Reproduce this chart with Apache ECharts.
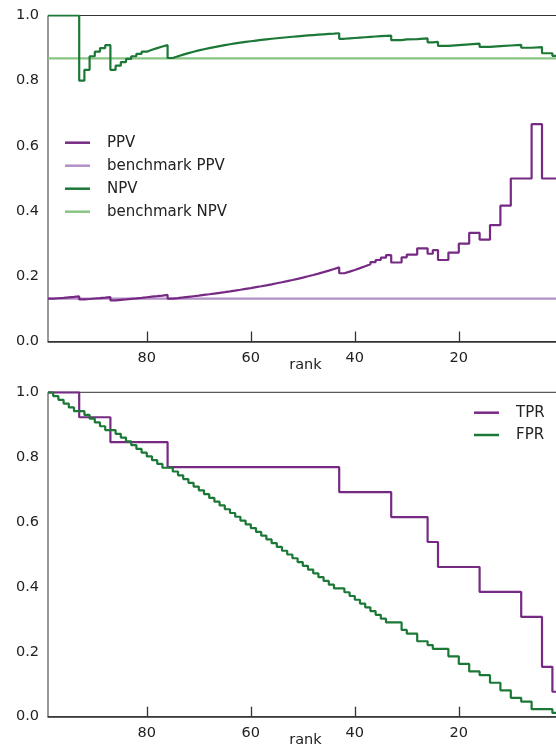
<!DOCTYPE html>
<html>
<head>
<meta charset="utf-8">
<script src="https://cdn.jsdelivr.net/npm/echarts@6/dist/echarts.min.js"></script>
<style>
html, body { margin: 0; padding: 0; background: #fff; }
#chart { width: 556px; height: 746px; }
</style>
</head>
<body>
<div id="chart"></div>
<script>
// rank of each threshold point (left to right on the reversed axis)
var ranks = [99, 98, 97, 96, 95, 94, 93, 92, 91, 90, 89, 88, 87, 86, 85, 84, 83, 82, 81, 80,
  79, 78, 77, 76, 75, 74, 73, 72, 71, 70, 69, 68, 67, 66, 65, 64, 63, 62, 61, 60,
  59, 58, 57, 56, 55, 54, 53, 52, 51, 50, 49, 48, 47, 46, 45, 44, 43, 42, 41, 40,
  39, 38, 37, 36, 35, 34, 33, 31, 30, 28, 26, 25, 24, 22, 20, 18, 16, 14, 12, 10,
  8, 6, 4, 2, 0];

var ppv = [0.1313, 0.1327, 0.1340, 0.1354, 0.1368, 0.1383, 0.1290, 0.1304, 0.1319, 0.1333,
  0.1348, 0.1364, 0.1264, 0.1279, 0.1294, 0.1310, 0.1325, 0.1341, 0.1358, 0.1375,
  0.1392, 0.1410, 0.1429, 0.1316, 0.1333, 0.1351, 0.1370, 0.1389, 0.1408, 0.1429,
  0.1449, 0.1471, 0.1493, 0.1515, 0.1538, 0.1563, 0.1587, 0.1613, 0.1639, 0.1667,
  0.1695, 0.1724, 0.1754, 0.1786, 0.1818, 0.1852, 0.1887, 0.1923, 0.1961, 0.2000,
  0.2041, 0.2083, 0.2128, 0.2174, 0.2222, 0.2273, 0.2093, 0.2143, 0.2195, 0.2250,
  0.2308, 0.2368, 0.2432, 0.2500, 0.2571, 0.2647, 0.2424, 0.2581, 0.2667, 0.2857,
  0.2692, 0.2800, 0.2500, 0.2727, 0.3000, 0.3333, 0.3125, 0.3571, 0.4167, 0.5000,
  0.5000, 0.6667, 0.5000, 0.5000, 0.5000];

var npv = [1, 1, 1, 1, 1, 1, 0.8, 0.8333, 0.875, 0.8889,
  0.9, 0.9091, 0.8333, 0.8462, 0.8571, 0.8667, 0.875, 0.8824, 0.8889, 0.8947,
  0.9, 0.9048, 0.9091, 0.8696, 0.875, 0.88, 0.8846, 0.8889, 0.8929, 0.8966,
  0.9, 0.9032, 0.9063, 0.9091, 0.9118, 0.9143, 0.9167, 0.9189, 0.9211, 0.9231,
  0.925, 0.9268, 0.9286, 0.9302, 0.9318, 0.9333, 0.9348, 0.9362, 0.9375, 0.9388,
  0.94, 0.9412, 0.9423, 0.9434, 0.9444, 0.9455, 0.9286, 0.9298, 0.931, 0.9322,
  0.9333, 0.9344, 0.9355, 0.9365, 0.9375, 0.9385, 0.9242, 0.9265, 0.9275, 0.9296,
  0.9178, 0.9189, 0.9067, 0.9091, 0.9114, 0.9136, 0.9036, 0.9059, 0.908, 0.9101,
  0.9011, 0.9032, 0.8842, 0.8763, 0.8763];

var tpr = [1, 1, 1, 1, 1, 1, 0.9231, 0.9231, 0.9231, 0.9231,
  0.9231, 0.9231, 0.8462, 0.8462, 0.8462, 0.8462, 0.8462, 0.8462, 0.8462, 0.8462,
  0.8462, 0.8462, 0.8462, 0.7692, 0.7692, 0.7692, 0.7692, 0.7692, 0.7692, 0.7692,
  0.7692, 0.7692, 0.7692, 0.7692, 0.7692, 0.7692, 0.7692, 0.7692, 0.7692, 0.7692,
  0.7692, 0.7692, 0.7692, 0.7692, 0.7692, 0.7692, 0.7692, 0.7692, 0.7692, 0.7692,
  0.7692, 0.7692, 0.7692, 0.7692, 0.7692, 0.7692, 0.6923, 0.6923, 0.6923, 0.6923,
  0.6923, 0.6923, 0.6923, 0.6923, 0.6923, 0.6923, 0.6154, 0.6154, 0.6154, 0.6154,
  0.5385, 0.5385, 0.4615, 0.4615, 0.4615, 0.4615, 0.3846, 0.3846, 0.3846, 0.3846,
  0.3077, 0.3077, 0.1538, 0.0769, 0.0769];

var fpr = [1, 0.9884, 0.9767, 0.9651, 0.9535, 0.9419, 0.9419, 0.9302, 0.9186, 0.9070,
  0.8953, 0.8837, 0.8837, 0.8721, 0.8605, 0.8488, 0.8372, 0.8256, 0.8140, 0.8023,
  0.7907, 0.7791, 0.7674, 0.7674, 0.7558, 0.7442, 0.7326, 0.7209, 0.7093, 0.6977,
  0.6860, 0.6744, 0.6628, 0.6512, 0.6395, 0.6279, 0.6163, 0.6047, 0.5930, 0.5814,
  0.5698, 0.5581, 0.5465, 0.5349, 0.5233, 0.5116, 0.5000, 0.4884, 0.4767, 0.4651,
  0.4535, 0.4419, 0.4302, 0.4186, 0.4070, 0.3953, 0.3953, 0.3837, 0.3721, 0.3605,
  0.3488, 0.3372, 0.3256, 0.3140, 0.3023, 0.2907, 0.2907, 0.2674, 0.2558, 0.2326,
  0.2209, 0.2093, 0.2093, 0.1860, 0.1628, 0.1395, 0.1279, 0.1047, 0.0814, 0.0581,
  0.0465, 0.0233, 0.0233, 0.0116, 0.0116];

var benchPPV = 0.1313;
var benchNPV = 0.8687;

var yTicks = ['0.0', '0.2', '0.4', '0.6', '0.8', '1.0'];

function pairs(vals) {
  return ranks.map(function (r, i) { return [r, vals[i]]; });
}
function flat(v) {
  return [[ranks[0], v], [ranks[ranks.length - 1], v]];
}

var FONT = 'DejaVu Sans';
var INK = '#222';

function xAxisFor(gi) {
  return {
    type: 'value', gridIndex: gi, min: 0, max: 99, interval: 20, inverse: true,
    name: 'rank', nameLocation: 'middle', nameGap: 16, nameMoveOverlap: false,
    nameTextStyle: { fontFamily: FONT, fontSize: 14.5, color: INK },
    axisLine: { lineStyle: { color: '#333', width: 1.5 } },
    axisTick: { inside: true, length: 10, lineStyle: { color: '#333', width: 1.3 } },
    axisLabel: { showMaxLabel: false, showMinLabel: false, margin: 9,
      fontFamily: FONT, fontSize: 14.5, color: INK },
    splitLine: { show: false }
  };
}
function yAxisFor(gi) {
  return {
    type: 'value', gridIndex: gi, min: 0, max: 1, interval: 0.2,
    axisLine: { show: true, lineStyle: { color: '#333', width: 1.5 } },
    axisTick: { show: true, inside: true, length: 10, lineStyle: { color: '#333', width: 1.3 } },
    axisLabel: { margin: 9, fontFamily: FONT, fontSize: 14.5, color: INK,
      formatter: function (v) { return yTicks[Math.round(v * 5)]; } },
    splitLine: { show: false }
  };
}
function stepLine(name, gi, data, color) {
  return {
    name: name, type: 'line', xAxisIndex: gi, yAxisIndex: gi,
    data: data, step: 'end', symbol: 'none', color: color,
    lineStyle: { color: color, width: 2.2 },
    emphasis: { disabled: true }
  };
}

var chart = echarts.init(document.getElementById('chart'));
var option = {
  animation: false,
  backgroundColor: '#fff',
  grid: [
    { left: 48, top: 15.5, width: 514.8, height: 326, show: true, borderColor: '#333', borderWidth: 1,
      outerBoundsMode: 'none', containLabel: false },
    { left: 48, top: 392.3, width: 514.8, height: 324.4, show: true, borderColor: '#333', borderWidth: 1,
      outerBoundsMode: 'none', containLabel: false }
  ],
  xAxis: [xAxisFor(0), xAxisFor(1)],
  yAxis: [yAxisFor(0), yAxisFor(1)],
  legend: [
    { data: ['PPV', 'benchmark PPV', 'NPV', 'benchmark NPV'],
      orient: 'vertical', left: 60, top: 129.7, icon: 'rect',
      itemWidth: 25, itemHeight: 2.5, itemGap: 7,
      textStyle: { fontFamily: FONT, fontSize: 15, color: INK, lineHeight: 16, padding: [0, 0, 0, 12] } },
    { data: ['TPR', 'FPR'],
      orient: 'vertical', left: 469, top: 399.7, icon: 'rect',
      itemWidth: 25, itemHeight: 2.5, itemGap: 6.3,
      textStyle: { fontFamily: FONT, fontSize: 15, color: INK, lineHeight: 16, padding: [0, 0, 0, 12] } }
  ],
  series: [
    stepLine('benchmark PPV', 0, flat(benchPPV), '#b390c6'),
    stepLine('benchmark NPV', 0, flat(benchNPV), '#88c483'),
    stepLine('PPV', 0, pairs(ppv), '#762a83'),
    stepLine('NPV', 0, pairs(npv), '#1b7837'),
    stepLine('TPR', 1, pairs(tpr), '#762a83'),
    stepLine('FPR', 1, pairs(fpr), '#1b7837')
  ]
};
chart.setOption(option);
</script>
</body>
</html>
